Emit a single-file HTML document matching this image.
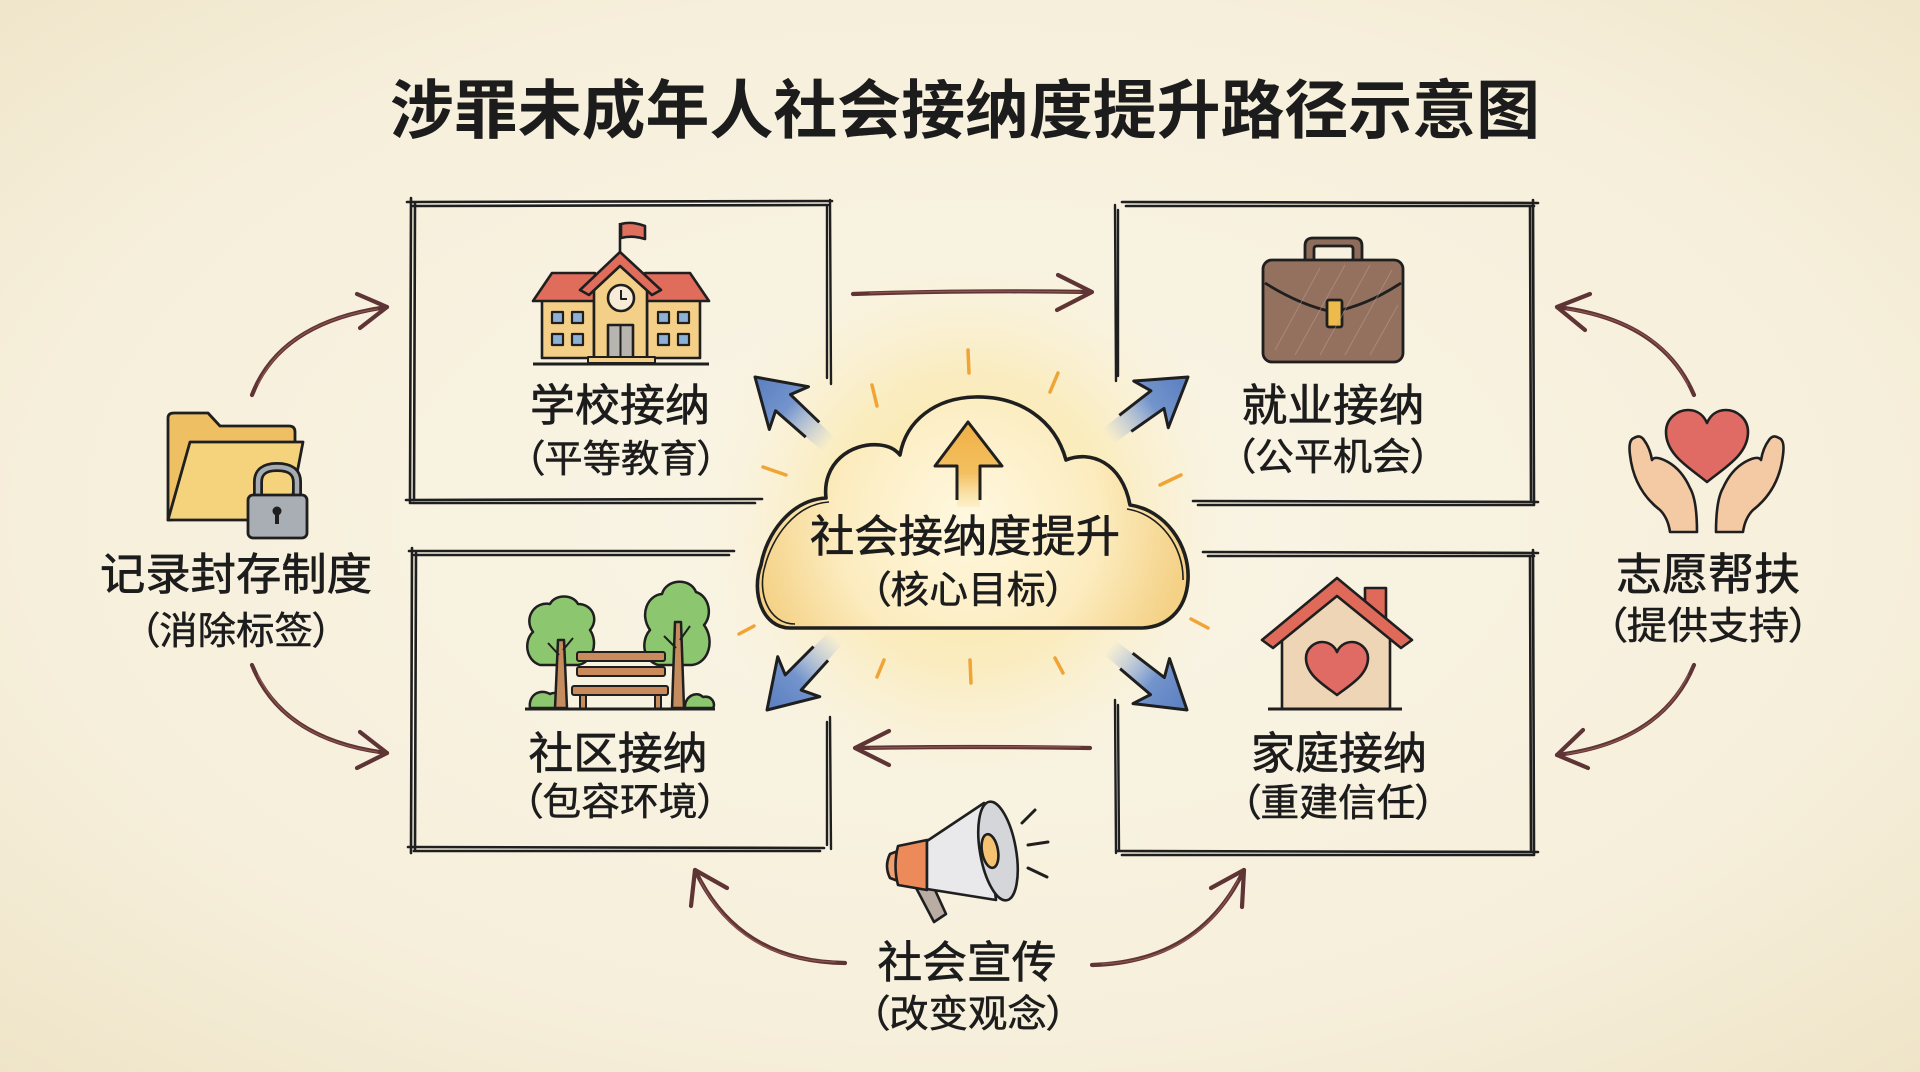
<!DOCTYPE html>
<html><head><meta charset="utf-8">
<style>
html,body{margin:0;padding:0;background:#f6efdc;}
svg{display:block;}
text{font-family:"Liberation Sans","Noto Sans CJK SC","WenQuanYi Zen Hei",sans-serif;fill:#1c1c1c;}
.m{font-size:44px;stroke:#1c1c1c;stroke-width:0.7px;}
.s{font-size:38px;font-feature-settings:"palt";stroke:#1c1c1c;stroke-width:0.5px;}
</style></head>
<body>
<svg width="1920" height="1072" viewBox="0 0 1920 1072" xmlns="http://www.w3.org/2000/svg">
<defs>
 <radialGradient id="bg" cx="50%" cy="48%" r="75%">
  <stop offset="0" stop-color="#faf5e6"/>
  <stop offset="0.65" stop-color="#f6efdb"/>
  <stop offset="1" stop-color="#eee3c6"/>
 </radialGradient>
 <radialGradient id="glow" cx="968" cy="520" r="270" gradientUnits="userSpaceOnUse">
  <stop offset="0" stop-color="#fbe49a" stop-opacity="0.95"/>
  <stop offset="0.55" stop-color="#fbe8a8" stop-opacity="0.6"/>
  <stop offset="1" stop-color="#faf0cf" stop-opacity="0"/>
 </radialGradient>
 <radialGradient id="cloudf" cx="968" cy="520" r="220" gradientUnits="userSpaceOnUse">
  <stop offset="0" stop-color="#fff8e0"/>
  <stop offset="0.6" stop-color="#fcecbf"/>
  <stop offset="1" stop-color="#f4d185"/>
 </radialGradient>
 <linearGradient id="blue" x1="0" y1="0" x2="-100" y2="0" gradientUnits="userSpaceOnUse">
  <stop offset="0" stop-color="#5a7ec0"/>
  <stop offset="0.45" stop-color="#7394cc"/>
  <stop offset="1" stop-color="#9db3dc" stop-opacity="0"/>
 </linearGradient>
 <linearGradient id="upar" x1="0" y1="422" x2="0" y2="508" gradientUnits="userSpaceOnUse">
  <stop offset="0" stop-color="#f0b045"/>
  <stop offset="0.6" stop-color="#f3c060"/>
  <stop offset="1" stop-color="#f7d88c" stop-opacity="0.2"/>
 </linearGradient>
</defs>

<rect width="1920" height="1072" fill="url(#bg)"/>
<ellipse cx="968" cy="520" rx="300" ry="250" fill="url(#glow)"/>

<!-- Title -->
<text x="965" y="111" dominant-baseline="central" text-anchor="middle" font-size="64" font-weight="700" textLength="1150" lengthAdjust="spacingAndGlyphs">涉罪未成年人社会接纳度提升路径示意图</text>

<!-- Boxes -->
<g stroke="#1f1f1f" stroke-linecap="round" fill="none">
 <path d="M407,202 L832,201 M413,206 L828,205" stroke-width="2.6"/>
 <path d="M411,198 L410,503 M415,203 L414,500" stroke-width="2.6"/>
 <path d="M830,200 L831,384 M827,206 L827,378" stroke-width="2.4"/>
 <path d="M406,500 L762,499 M412,503 L755,503" stroke-width="2.6"/>
 <path d="M1122,202 L1538,203 M1126,206 L1534,206" stroke-width="2.6"/>
 <path d="M1115,205 L1116,381 M1118,210 L1118,376" stroke-width="2.4"/>
 <path d="M1533,200 L1534,504 M1530,206 L1531,500" stroke-width="2.6"/>
 <path d="M1193,501 L1538,502 M1198,505 L1534,505" stroke-width="2.6"/>
 <path d="M409,551 L734,551 M414,555 L729,555" stroke-width="2.6"/>
 <path d="M412,548 L411,853 M416,553 L415,850" stroke-width="2.6"/>
 <path d="M408,847 L824,848 M414,851 L820,851" stroke-width="2.6"/>
 <path d="M830,717 L831,849 M827,722 L827,845" stroke-width="2.4"/>
 <path d="M1203,552 L1538,553 M1208,556 L1534,556" stroke-width="2.6"/>
 <path d="M1533,550 L1534,854 M1530,556 L1531,850" stroke-width="2.6"/>
 <path d="M1117,851 L1538,852 M1122,855 L1534,855" stroke-width="2.6"/>
 <path d="M1115,700 L1116,853 M1118,705 L1119,850" stroke-width="2.4"/>
</g>

<!-- Rays -->
<g stroke="#f0a435" stroke-width="3.5" stroke-linecap="round">
 <line x1="968" y1="350" x2="969" y2="373"/>
 <line x1="872" y1="385" x2="877" y2="406"/>
 <line x1="1058" y1="373" x2="1050" y2="392"/>
 <line x1="763" y1="467" x2="786" y2="475"/>
 <line x1="1160" y1="485" x2="1181" y2="475"/>
 <line x1="739" y1="634" x2="754" y2="626"/>
 <line x1="1191" y1="619" x2="1208" y2="628"/>
 <line x1="884" y1="660" x2="877" y2="677"/>
 <line x1="970" y1="660" x2="971" y2="683"/>
 <line x1="1055" y1="658" x2="1063" y2="673"/>
</g>

<!-- Cloud -->
<path d="M790,628 C762,628 751,592 761,565 C766,535 790,500 826,498 C822,464 850,442 880,445 C890,446 896,450 900,455 C906,420 936,398 975,397 C1020,396 1055,420 1066,460 C1090,450 1122,462 1130,505 C1165,510 1190,545 1188,580 C1186,612 1165,628 1140,628 Z" fill="url(#cloudf)" stroke="#1f1f1f" stroke-width="3.6" stroke-linejoin="round"/>
<path d="M795,624 C768,624 757,592 765,566 C772,538 795,504 829,502 M1127,509 C1160,514 1184,547 1183,580" fill="none" stroke="#1f1f1f" stroke-width="1.6"/>

<polygon points="968,422 1002,466 980,466 980,507 957,507 957,466 935,466" fill="url(#upar)"/>
<path d="M957,500 L957,466 L935,466 L968,422 L1002,466 L980,466 L980,500" fill="none" stroke="#1f1f1f" stroke-width="3" stroke-linejoin="round"/>

<!-- Blue arrows -->
<g>
 <g transform="translate(755,377) rotate(-137.5)">
  <polygon points="0,0 -46,-29 -38,-11 -100,-9 -100,9 -38,11 -46,29" fill="url(#blue)"/>
  <path d="M-78,-10 L-38,-11 L-46,-29 L0,0 L-46,29 L-38,11 L-78,10" fill="none" stroke="#1f1f1f" stroke-width="3" stroke-linejoin="round"/>
 </g>
 <g transform="translate(1188,377) rotate(-36.5)">
  <polygon points="0,0 -46,-29 -38,-11 -100,-9 -100,9 -38,11 -46,29" fill="url(#blue)"/>
  <path d="M-78,-10 L-38,-11 L-46,-29 L0,0 L-46,29 L-38,11 L-78,10" fill="none" stroke="#1f1f1f" stroke-width="3" stroke-linejoin="round"/>
 </g>
 <g transform="translate(767,710) rotate(133.6)">
  <polygon points="0,0 -46,-29 -38,-11 -100,-9 -100,9 -38,11 -46,29" fill="url(#blue)"/>
  <path d="M-78,-10 L-38,-11 L-46,-29 L0,0 L-46,29 L-38,11 L-78,10" fill="none" stroke="#1f1f1f" stroke-width="3" stroke-linejoin="round"/>
 </g>
 <g transform="translate(1187,710) rotate(39)">
  <polygon points="0,0 -46,-29 -38,-11 -100,-9 -100,9 -38,11 -46,29" fill="url(#blue)"/>
  <path d="M-78,-10 L-38,-11 L-46,-29 L0,0 L-46,29 L-38,11 L-78,10" fill="none" stroke="#1f1f1f" stroke-width="3" stroke-linejoin="round"/>
 </g>
</g>

<!-- Brown connectors -->
<g fill="none" stroke="#5e3434" stroke-width="4.2" stroke-linecap="round" stroke-linejoin="round">
 <path d="M853,294 Q970,290 1090,292"/>
 <path d="M1058,275 L1092,292 L1057,310"/>
 <path d="M1090,748 Q975,746 857,748"/>
 <path d="M889,731 L855,748 L889,765"/>
 <path d="M252,395 Q280,322 387,307"/>
 <path d="M357,294 L387,307 L360,328"/>
 <path d="M252,665 Q282,740 387,753"/>
 <path d="M360,732 L387,753 L357,768"/>
 <path d="M1694,395 Q1662,320 1557,307"/>
 <path d="M1590,294 L1557,307 L1585,330"/>
 <path d="M1694,665 Q1662,742 1557,755"/>
 <path d="M1583,730 L1557,755 L1588,768"/>
 <path d="M845,963 Q738,962 695,870"/>
 <path d="M691,906 L695,870 L727,888"/>
 <path d="M1092,965 Q1200,962 1244,870"/>
 <path d="M1211,888 L1244,870 L1242,907"/>
</g>
<g fill="none" stroke="#a0605a" stroke-width="1.3" stroke-linecap="round" opacity="0.7">
 <path d="M870,293 Q970,290 1080,292"/>
 <path d="M1080,747 Q975,746 870,748"/>
 <path d="M258,385 Q285,324 377,309"/>
 <path d="M258,675 Q287,738 377,752"/>
 <path d="M1688,385 Q1660,323 1567,309"/>
 <path d="M1688,675 Q1658,740 1567,754"/>
 <path d="M835,962 Q740,960 700,880"/>
 <path d="M1102,964 Q1198,960 1238,880"/>
</g>

<!-- School icon -->
<g stroke="#1f1f1f" stroke-width="2.6" stroke-linejoin="round">
 <line x1="620" y1="223" x2="620" y2="254"/>
 <path d="M621,224 Q632,221 645,226 L645,239 Q633,235 621,238 Z" fill="#e0705e"/>
 <rect x="542" y="298" width="52" height="60" fill="#f3cf87"/>
 <rect x="647" y="298" width="53" height="60" fill="#f3cf87"/>
 <polygon points="533,301 552,273 595,273 595,301" fill="#e06c5b"/>
 <polygon points="645,273 690,273 709,301 645,301" fill="#e06c5b"/>
 <polygon points="594,358 594,285 620,262 647,285 647,358" fill="#f3cf87"/>
 <polygon points="580,290 620,252 661,290 652,295 620,266 589,295" fill="#e06c5b"/>
 <circle cx="621" cy="298" r="13" fill="#f8ecd8"/>
 <path d="M621,290 L621,299 L627,299" fill="none" stroke-width="2"/>
 <rect x="608" y="325" width="25" height="33" fill="#b8b4b0"/>
 <line x1="620.5" y1="325" x2="620.5" y2="358" stroke-width="2"/>
 <g fill="#8db1d6" stroke-width="2.2">
  <rect x="552" y="312" width="11" height="11"/><rect x="572" y="312" width="11" height="11"/>
  <rect x="552" y="334" width="11" height="11"/><rect x="572" y="334" width="11" height="11"/>
  <rect x="658" y="312" width="11" height="11"/><rect x="678" y="312" width="11" height="11"/>
  <rect x="658" y="334" width="11" height="11"/><rect x="678" y="334" width="11" height="11"/>
 </g>
 <rect x="588" y="357" width="67" height="6" fill="#f3cf87" stroke-width="2"/>
 <line x1="533" y1="364" x2="709" y2="364" stroke-width="3"/>
</g>

<!-- Briefcase -->
<g stroke="#1f1f1f" stroke-width="2.8" stroke-linejoin="round">
 <path d="M1305,262 V246 Q1305,238 1313,238 H1354 Q1362,238 1362,246 V262 H1353 V249 Q1353,246 1350,246 H1317 Q1314,246 1314,249 V262 Z" fill="#8d6c5c"/>
 <rect x="1263" y="260" width="140" height="102" rx="9" fill="#94705f"/>
 <path d="M1265,283 Q1300,305 1333,312 Q1368,305 1401,283" fill="none"/>
 <rect x="1327" y="300" width="15" height="27" rx="2" fill="#ecbb4c"/>
</g>
<g stroke="#c4a696" stroke-width="1" opacity="0.45">
 <path d="M1275,350 L1320,268 M1295,355 L1345,265 M1320,355 L1370,265 M1345,355 L1392,270 M1370,355 L1398,305"/>
</g>

<!-- Park icon -->
<g stroke="#1f1f1f" stroke-width="2.5" stroke-linejoin="round">
 <path d="M530,708 C528,695 540,688 550,694 C558,690 566,698 564,708 Z" fill="#8cc66e"/>
 <path d="M685,708 C684,697 696,690 703,697 C712,695 716,704 713,708 Z" fill="#8cc66e"/>
 <path d="M540,665 C525,660 524,640 533,632 C523,618 535,601 550,604 C555,594 573,594 578,604 C593,604 599,620 590,630 C599,643 592,663 578,665 Z" fill="#8cc66e"/>
 <path d="M658,665 C642,660 641,640 650,630 C639,614 648,595 662,594 C666,579 690,577 696,592 C709,596 713,615 704,625 C715,640 709,663 692,665 Z" fill="#8cc66e"/>
 <polygon points="555,708 558,640 564,640 567,708" fill="#c58c5e"/>
 <polygon points="672,708 675,622 681,622 684,708" fill="#c58c5e"/>
 <path d="M559,655 L548,643 M563,650 L573,638 M676,648 L664,636 M680,640 L690,626" fill="none" stroke-width="2"/>
 <rect x="580" y="694" width="6" height="15" fill="#c58c5e" stroke-width="2"/>
 <rect x="655" y="694" width="6" height="15" fill="#c58c5e" stroke-width="2"/>
 <rect x="577" y="652" width="88" height="9" rx="2" fill="#c98b5c" stroke-width="2"/>
 <rect x="577" y="667" width="88" height="9" rx="2" fill="#c98b5c" stroke-width="2"/>
 <rect x="572" y="686" width="96" height="9" rx="2" fill="#c98b5c" stroke-width="2"/>
 <line x1="525" y1="709" x2="715" y2="709" stroke-width="3"/>
</g>

<!-- House icon -->
<g stroke="#1f1f1f" stroke-width="2.6" stroke-linejoin="round">
 <rect x="1365" y="588" width="21" height="36" fill="#e06a5a"/>
 <polygon points="1282,709 1282,635 1337,590 1390,635 1390,709" fill="#eed5b6"/>
 <polygon points="1262,640 1337,578 1412,640 1401,648 1337,596 1273,648" fill="#e06a5a"/>
 <path d="M1337,695 C1324,685 1306,675 1306,658 C1306,648 1315,642 1322,642 C1330,642 1335,647 1337,652 C1339,647 1344,642 1352,642 C1359,642 1368,648 1368,658 C1368,675 1350,685 1337,695 Z" fill="#e06a64"/>
 <line x1="1268" y1="709" x2="1402" y2="709" stroke-width="3"/>
</g>

<!-- Folder + lock -->
<g stroke="#1f1f1f" stroke-width="2.8" stroke-linejoin="round">
 <path d="M168,520 L168,418 Q168,413 174,413 L208,413 L220,426 L289,426 Q295,426 295,432 L295,512 Z" fill="#eec063"/>
 <path d="M190,442 L303,442 L288,520 L168,520 Z" fill="#f5d37c"/>
 <path d="M258,497 V482 Q258,467 277,467 Q297,467 297,482 V497" fill="none" stroke-width="10"/>
 <path d="M258,497 V482 Q258,467 277,467 Q297,467 297,482 V497" fill="none" stroke="#a6acb2" stroke-width="4.5"/>
 <rect x="248" y="495" width="59" height="43" rx="5" fill="#a8aeb4"/>
 <circle cx="277" cy="511" r="4.5" fill="#1f1f1f" stroke="none"/>
 <rect x="275" y="513" width="4" height="11" fill="#1f1f1f" stroke="none"/>
</g>

<!-- Hands + heart -->
<g stroke="#1f1f1f" stroke-width="2.6" stroke-linejoin="round">
 <path d="M1634,438 Q1628,440 1630,455 Q1634,490 1660,510 Q1668,518 1670,532 L1697,532 Q1697,500 1690,488 Q1682,470 1668,462 Q1655,455 1652,460 Q1650,448 1644,440 Q1640,434 1634,438 Z" fill="#f4caa5"/>
 <path d="M1779,438 Q1785,440 1783,455 Q1779,490 1753,510 Q1745,518 1743,532 L1716,532 Q1716,500 1723,488 Q1731,470 1745,462 Q1758,455 1761,460 Q1763,448 1769,440 Q1773,434 1779,438 Z" fill="#f4caa5"/>
 <path d="M1707,482 C1690,468 1666,455 1666,432 C1666,418 1678,410 1688,410 C1698,410 1704,416 1707,423 C1710,416 1716,410 1726,410 C1736,410 1748,418 1748,432 C1748,455 1724,468 1707,482 Z" fill="#e06a64"/>
</g>

<!-- Megaphone -->
<g stroke="#1f1f1f" stroke-width="2.6" stroke-linejoin="round">
 <polygon points="914,884 930,879 946,914 934,922" fill="#b9aca3"/>
 <path d="M898,851 L890,854 Q884,866 890,878 L898,881 Z" fill="#f0a070"/>
 <path d="M898,846 L927,840 L927,890 L898,885 Q893,866 898,846 Z" fill="#ec8a5a"/>
 <path d="M927,841 L984,803 L996,900 L927,889 Z" fill="#e9e9eb"/>
 <ellipse cx="998" cy="851" rx="18" ry="50" transform="rotate(-10 998 851)" fill="#d4d6da"/>
 <ellipse cx="990" cy="851" rx="8" ry="17" transform="rotate(-10 990 851)" fill="#f5c272"/>
</g>
<g stroke="#1f1f1f" stroke-width="3" stroke-linecap="round">
 <line x1="1022" y1="823" x2="1035" y2="810"/>
 <line x1="1028" y1="845" x2="1048" y2="842"/>
 <line x1="1028" y1="868" x2="1047" y2="877"/>
</g>

<!-- Labels -->
<g text-anchor="middle" dominant-baseline="central">
 <text class="m" x="620" y="406" textLength="180" lengthAdjust="spacingAndGlyphs">学校接纳</text>
 <text class="s" x="621" y="460" textLength="192" lengthAdjust="spacingAndGlyphs">（平等教育）</text>
 <text class="m" x="1333" y="406" textLength="183" lengthAdjust="spacingAndGlyphs">就业接纳</text>
 <text class="s" x="1333" y="458" textLength="195" lengthAdjust="spacingAndGlyphs">（公平机会）</text>
 <text class="m" x="618" y="754" textLength="179" lengthAdjust="spacingAndGlyphs">社区接纳</text>
 <text class="s" x="620" y="803" textLength="194" lengthAdjust="spacingAndGlyphs">（包容环境）</text>
 <text class="m" x="1339" y="754" textLength="176" lengthAdjust="spacingAndGlyphs">家庭接纳</text>
 <text class="s" x="1338" y="804" textLength="194" lengthAdjust="spacingAndGlyphs">（重建信任）</text>
 <text class="m" x="965" y="537" textLength="310" lengthAdjust="spacingAndGlyphs">社会接纳度提升</text>
 <text class="s" x="968" y="591" textLength="194" lengthAdjust="spacingAndGlyphs">（核心目标）</text>
 <text class="m" x="236" y="575" textLength="272" lengthAdjust="spacingAndGlyphs">记录封存制度</text>
 <text class="s" x="236" y="632" textLength="192" lengthAdjust="spacingAndGlyphs">（消除标签）</text>
 <text class="m" x="1708" y="575" textLength="184" lengthAdjust="spacingAndGlyphs">志愿帮扶</text>
 <text class="s" x="1708" y="627" textLength="203" lengthAdjust="spacingAndGlyphs">（提供支持）</text>
 <text class="m" x="967" y="963" textLength="179" lengthAdjust="spacingAndGlyphs">社会宣传</text>
 <text class="s" x="968" y="1015" textLength="197" lengthAdjust="spacingAndGlyphs">（改变观念）</text>
</g>
</svg>
</body></html>
